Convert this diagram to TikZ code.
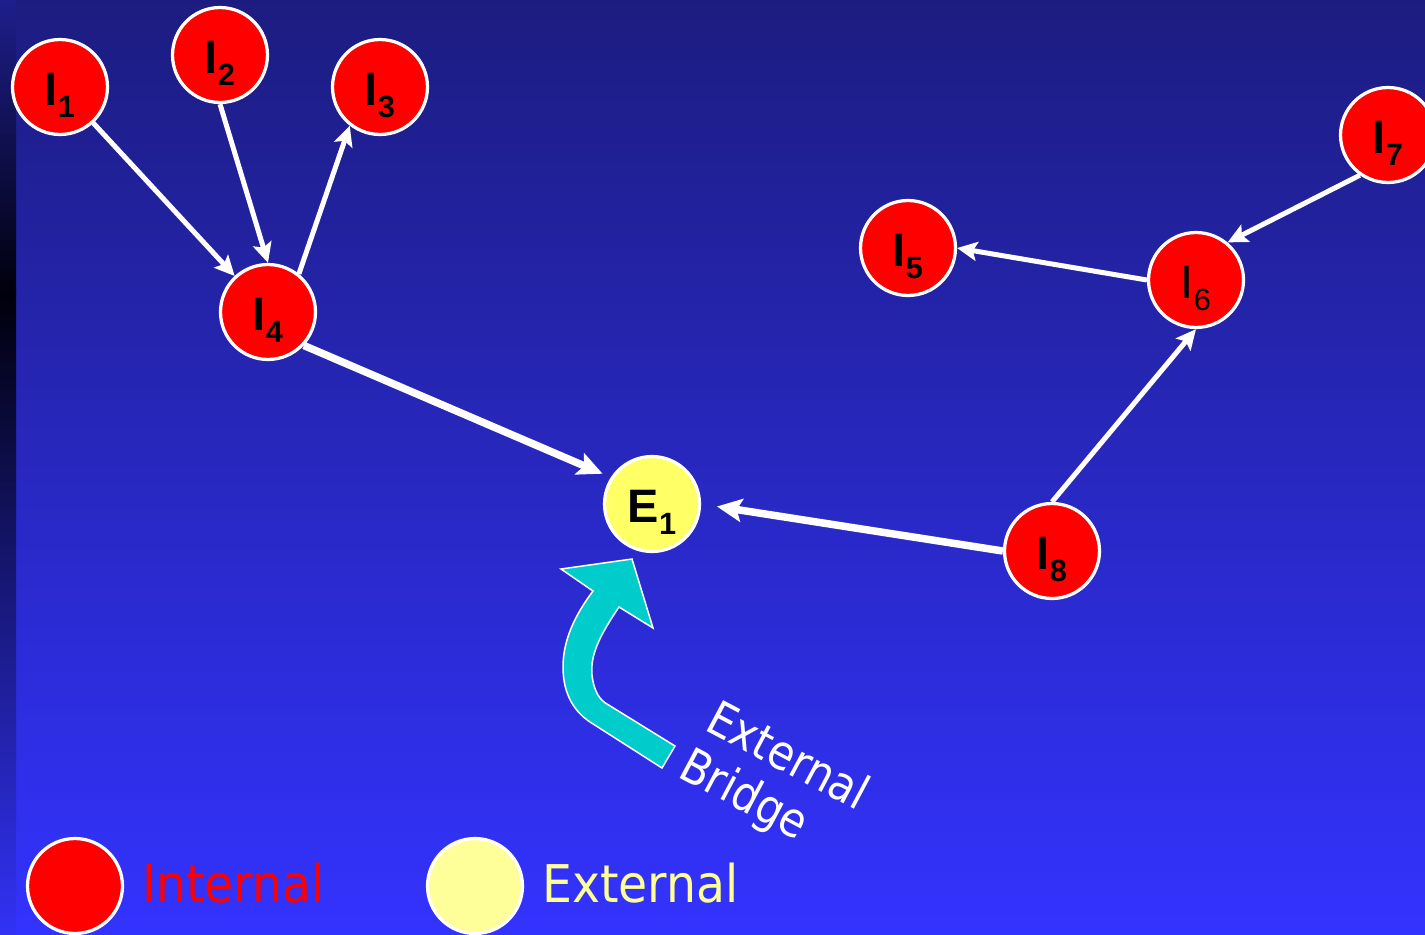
\documentclass[tikz,border=0pt]{standalone}
\usepackage{fontspec}
\setmainfont{Liberation Sans}
\newfontfamily\tahfont[FakeStretch=0.88]{DejaVu Sans}
\newfontfamily\legfont[FakeStretch=0.91]{DejaVu Sans}
\usetikzlibrary{arrows.meta}
\definecolor{bgtop}{RGB}{28,28,128}
\definecolor{bgbot}{RGB}{51,51,255}
\definecolor{nodered}{RGB}{255,0,0}
\definecolor{eyellow}{RGB}{255,255,102}
\definecolor{legyellow}{RGB}{255,255,153}
\definecolor{bridgeteal}{RGB}{0,204,204}
\definecolor{stripa}{RGB}{30,30,140}
\definecolor{stripb}{RGB}{0,0,12}
\definecolor{stripc}{RGB}{50,50,245}
\newcommand\nlab[2]{#1\raisebox{-0.24cm}{\fontsize{17.5}{20}\selectfont #2}}
\begin{document}
\begin{tikzpicture}[x=0.02cm,y=-0.02cm,
  bubble/.style={circle, draw=white, line width=0.065cm, minimum size=1.9cm, inner sep=0pt,
    fill=nodered, text=black, font=\fontsize{26.7}{30}\selectfont\bfseries,
    text height=0.72cm, text depth=0cm},
  bubblereg/.style={bubble, font=\fontsize{26.7}{30}\selectfont\mdseries},
  conn/.style={draw=white, line width=0.1cm, -{Stealth[length=0.4cm,width=0.38cm,inset=0.08cm]}},
  thickconn/.style={draw=white, line width=0.15cm, -{Stealth[length=0.5cm,width=0.46cm,inset=0.1cm]}},
  legtext/.style={anchor=base west, inner sep=0pt, font=\legfont\fontsize{29.6}{34}\selectfont},
  bridgetext/.style={anchor=base west, inner sep=0pt, rotate=-28, text=white, font=\tahfont\fontsize{27.3}{32}\selectfont}
]
\useasboundingbox (0,0) rectangle (1425,934);
% background
\shade[top color=bgtop, bottom color=bgbot] (0,0) rectangle (1425,934);
\shade[top color=stripa, bottom color=stripb] (0,0) rectangle (16,295);
\shade[top color=stripb, bottom color=stripc] (0,295) rectangle (16,934);

% nodes
\node[bubble] (I1) at (60,87) {\nlab{I}{1}};
\node[bubble] (I2) at (220,55) {\nlab{I}{2}};
\node[bubble] (I3) at (380,87) {\nlab{I}{3}};
\node[bubble] (I4) at (268,312) {\nlab{I}{4}};
\node[bubble] (I5) at (908,248) {\nlab{I}{5}};
\node[bubblereg] (I6) at (1196,280) {\nlab{I}{6}};
\node[bubble] (I7) at (1388,135) {\nlab{I}{7}};
\node[bubble] (I8) at (1052,551) {\nlab{I}{8}};
\node[bubble, fill=eyellow] (E1) at (652,504) {\nlab{E}{1}};

% connectors
\draw[conn] (I1) -- (I4);
\draw[conn] (I2.south) -- (I4.north);
\draw[conn] (I4.51) -- (I3.232);
\draw[thickconn, shorten >=0.18cm] (I4.317) -- (E1.147);
\draw[thickconn, shorten >=0.32cm] (I8.west) -- (E1.east);
\draw[conn] (I8.north) -- (I6.south);
\draw[conn] (I6.west) -- (I5.east);
\draw[conn] (I7.235) -- (I6.50);

% external bridge arrow
\draw[fill=bridgeteal, draw=white, line width=0.03cm, line join=miter]
  (632,559) -- (653,628) -- (619,607)
  .. controls (600,635) and (590,655) .. (592,675)
  .. controls (594,692) and (600,700) .. (607,704)
  -- (675,746) -- (662,768) -- (590,722)
  .. controls (575,712) and (563,695) .. (563,667)
  .. controls (563,640) and (575,615) .. (593,591)
  -- (561,569) -- cycle;
\node[bridgetext] (br1) at (703,729) {External};
\node[bridgetext] (br2) at (676,776) {Bridge};

% legend
\node[bubble] (legI) at (75,886) {};
\node[bubble, fill=legyellow] (legE) at (475,886) {};
\node[legtext, text=nodered] (legIt) at (142,902) {Internal};
\node[legtext, text=legyellow] (legEt) at (542,902) {External};
\end{tikzpicture}
\end{document}
